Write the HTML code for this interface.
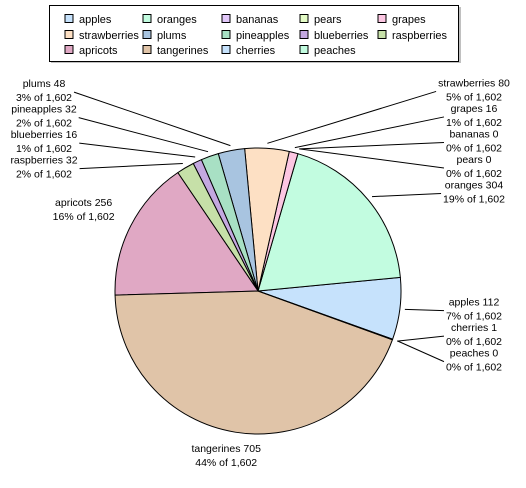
<!DOCTYPE html>
<html><head><meta charset="utf-8"><style>
body{margin:0;background:#fff;}
svg{display:block;font-family:"Liberation Sans",Arial,sans-serif;}
</style></head><body>
<svg id="chart" width="526" height="488" viewBox="0 0 526 488">
<rect x="51" y="7" width="410" height="56" fill="#c0c0c0"/>
<rect x="49.5" y="5.5" width="409" height="56" fill="#fff" stroke="#000"/>
<g id="legend"></g>
<g id="slices"></g>
<g id="labels"></g>
</svg>
<script>
const categories = ["apples","oranges","bananas","pears","grapes","strawberries","plums","pineapples","blueberries","raspberries","apricots","tangerines","cherries","peaches"];
const values = [112,304,0,0,16,80,48,32,16,32,256,705,1,0];
const colors = ["#c6e2fc","#c2fce0","#e2c8fa","#e4fcc6","#fcc6e2","#fde0c4","#a8c4e0","#a8e0c4","#c4a8e0","#c6e0a8","#e0a8c4","#e0c4a8","#c6e2fc","#c2fce0"];
const NS="http://www.w3.org/2000/svg";
const cx=258, cy=291, r=143, startDeg=-19.7;
function mk(tag,attrs,parent){const e=document.createElementNS(NS,tag);for(const k in attrs)e.setAttribute(k,attrs[k]);parent.appendChild(e);return e;}
const total=values.reduce((a,b)=>a+b,0);
const fmt=n=>n.toLocaleString("en-US");
// legend
const lg=document.getElementById("legend");
const colX=[65,143,222,300,378], rowY=[19,35,50];
categories.forEach((c,i)=>{
  const x=colX[i%5], y=rowY[Math.floor(i/5)];
  const sw=mk("rect",{x:x,y:y-4.5,width:8,height:8,fill:colors[i],stroke:"#000","stroke-width":1},lg);
  
  
  const t=mk("text",{x:x+14,y:y+4,"font-size":"11"},lg);
  t.textContent=c;
  
  
});
// slices
const sg=document.getElementById("slices");
const pt=(deg,rad)=>[cx+rad*Math.cos(deg*Math.PI/180), cy-rad*Math.sin(deg*Math.PI/180)];
let a=startDeg; const mids=[];
values.forEach((v,i)=>{
  const sweep=v/total*360; const a0=a, a1=a+sweep; a=a1;
  mids.push((a0+a1)/2);
  if(v<=0) return;
  const p0=pt(a0,r), p1=pt(a1,r);
  const large=sweep>180?1:0;
  const p=mk("path",{d:`M${cx},${cy}L${p0[0]},${p0[1]}A${r},${r} 0 ${large} 0 ${p1[0]},${p1[1]}Z`,fill:colors[i],stroke:"#000","stroke-width":1,"stroke-linejoin":"round"},sg);
  
  
});
// labels
const lab=document.getElementById("labels");
const items=values.map((v,i)=>{
  let m=mids[i]; while(m>270)m-=360; while(m<=-90)m+=360;
  const s=Math.sin(m*Math.PI/180), c=Math.cos(m*Math.PI/180);
  return {i,m,s,c,y:cy-(r+30)*s-6,side:s<-0.9?"bottom":(c>=0?"right":"left"),near:false};
});
const sp=25.5;
["left","right"].forEach(side=>{
  const L=items.filter(o=>o.side===side).sort((p,q)=>{
    const ap=Math.round(p.m), aq=Math.round(q.m);
    if(ap!==aq) return side==="right"?aq-ap:ap-aq;
    return p.i-q.i;});
  let clusters=L.map(o=>({items:[o],mean:o.y}));
  let changed=true;
  const place=cl=>{const n=cl.items.length;return cl.mean-(n-1)*sp/2;};
  while(changed){changed=false;
    for(let k=0;k<clusters.length-1;k++){
      const A=clusters[k],B=clusters[k+1];
      const endA=place(A)+(A.items.length-1)*sp;
      if(place(B)-endA<sp){
        const its=A.items.concat(B.items);
        clusters.splice(k,2,{items:its,mean:its.reduce((s,o)=>s+o.y,0)/its.length});
        changed=true;break;}
    }}
  clusters.forEach(cl=>{const y0=place(cl)+(side==="right"&&cl.items.length>4?9:0);cl.items.forEach((o,j)=>o.ly=y0+j*sp);
    if(side==="left"&&cl.items.length===1&&values[cl.items[0].i]/total>0.1) cl.items[0].near=true;});
  L.forEach(o=>o.lx=side==="left"?44:474);
});
items.forEach(o=>{
  if(o.side==="bottom"){o.lx=cx+1.4*r*o.c;o.ly=cy-(r+8)*o.s+12;}
  if(o.near){o.lx=cx+1.37*r*o.c;}
  const g=mk("g",{},lab);
  
  
  const t1=mk("text",{x:o.lx,y:o.ly,"font-size":"10.5"},g);
  t1.textContent=categories[o.i]+" "+fmt(values[o.i]);
  const t2=mk("text",{x:o.lx,y:o.ly+14,"font-size":"10.5"},g);
  t2.textContent=Math.round(values[o.i]/total*100)+"% of "+fmt(total);
  const w1=t1.getComputedTextLength(), w2=t2.getComputedTextLength();
  t1.setAttribute("x",o.lx-w1/2);
  t2.setAttribute("x",o.lx-w2/2);
  if(o.side==="bottom"||o.near)return;
  const w=Math.max(w1,w2);
  const ex=o.side==="left"?o.lx+w/2+2:o.lx-w/2-2;
  const p=pt(o.m,r+5);
  if(Math.abs(ex-p[0])<15)return;
  const ln=mk("line",{x1:p[0],y1:p[1],x2:ex,y2:o.ly+5,stroke:"#000","stroke-width":1},lab);
  
  
});
</script>
</body></html>
